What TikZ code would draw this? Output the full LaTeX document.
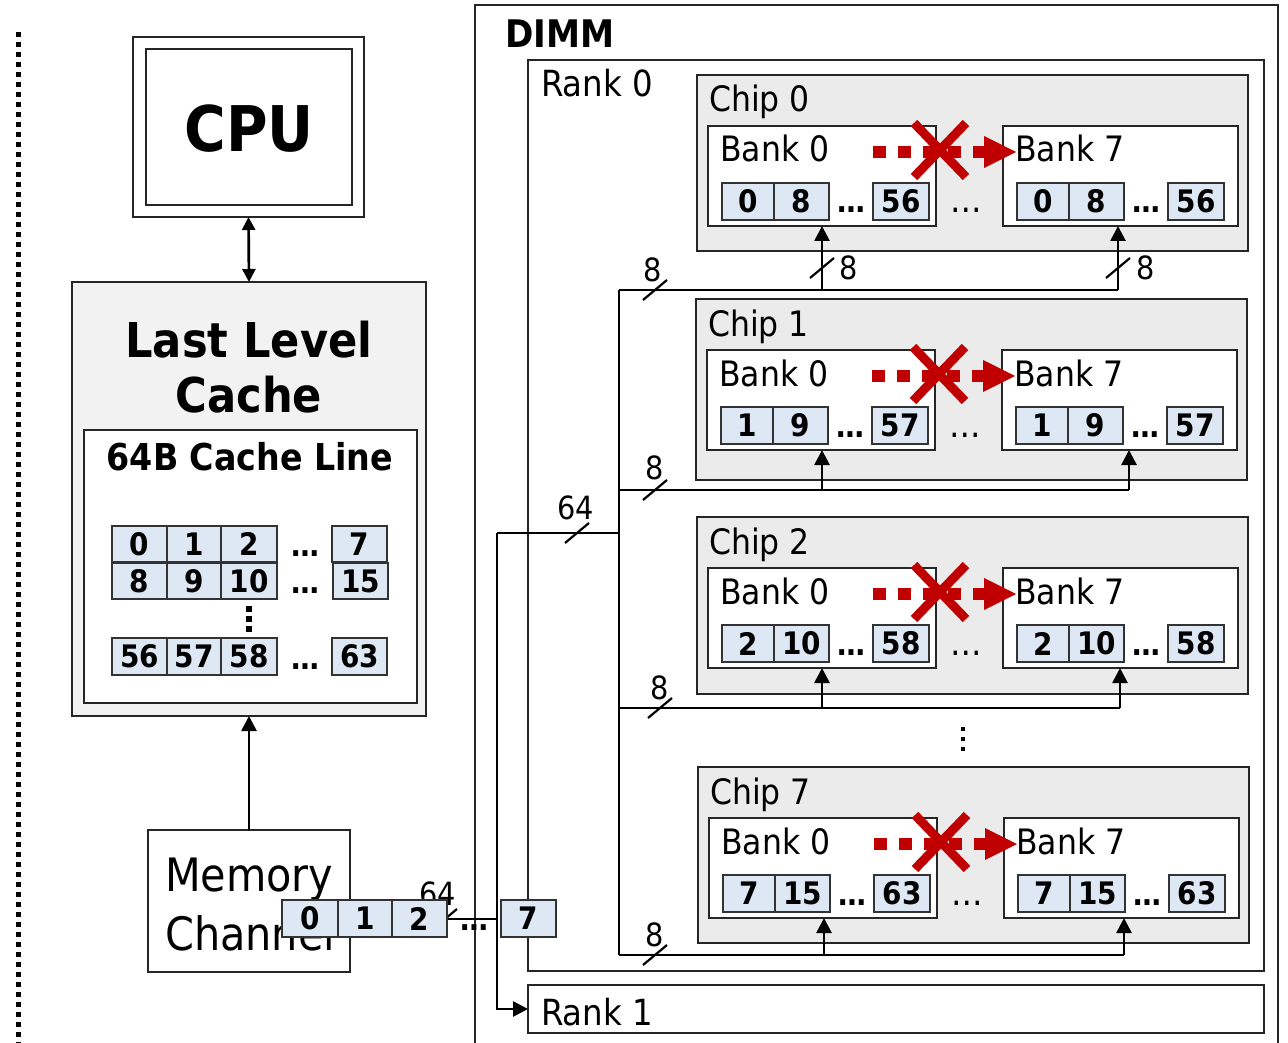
\documentclass[tikz,border=0pt]{standalone}
\usepackage{fontspec}
\setmainfont{DejaVu Sans Condensed}
\usetikzlibrary{arrows.meta}
\definecolor{llcgray}{HTML}{F2F2F2}
\definecolor{chipgray}{HTML}{EBEBEB}
\definecolor{cellblue}{HTML}{DDE8F4}
\definecolor{xred}{HTML}{C00000}
\newcommand\banksize{\fontsize{35}{35}\selectfont}
\newcommand\cellsize{\bfseries\fontsize{31}{31}\selectfont}
\newcommand\mybox[6]{\pgfmathsetmacro\mbw{(#4)-(#2)}\pgfmathsetmacro\mbh{(#5)-(#3)}%
  \node[#6,inner sep=0pt,outer sep=0pt,minimum width=\mbw pt,minimum height=\mbh pt,anchor=north west] (#1) at (#2,#3) {};}
\newcommand\mycell[6]{\pgfmathsetmacro\mbw{(#4)-(#2)}\pgfmathsetmacro\mbh{(#5)-(#3)}%
  \node[cellbox,inner sep=0pt,outer sep=0pt,minimum width=\mbw pt,minimum height=\mbh pt,anchor=north west] (#1) at (#2,#3) {#6};}
\newcommand\myslash[2]{\draw[tick] (#1-12,#2+10) -- (#1+12,#2-10);}
\newcommand\mybank[8]{%
  \mybox{#1}{#2}{#3}{#2+#4}{#3+100}{frame,fill=white}
  \node[lbl,font=\banksize] (#1t) at (#2+12,#3+36) {#5};
  \mycell{#1x}{#2+14}{#3+57}{#2+66}{#3+94}{#6}
  \mycell{#1y}{#2+66}{#3+57}{#2+121}{#3+94}{#7}
  \node[inner sep=0pt,anchor=base,font=\cellsize] (#1d) at (#2+143,#3+87) {…};
  \mycell{#1z}{#2+165}{#3+57}{#2+221}{#3+94}{#8}
}
\newcommand\mychip[8]{%
  \mybox{#1}{#2}{#3}{#2+551}{#3+#4}{frame,fill=chipgray}
  \node[lbl,font=\banksize] (#1t) at (#2+12,#3+37) {#5};
  \mybank{#1b0}{#2+11}{#3+51}{228}{Bank 0}{#6}{#7}{#8}
  \mybank{#1b7}{#2+306}{#3+51}{235}{Bank 7}{#6}{#7}{#8}
  \node[inner sep=0pt,anchor=base,font=\banksize] (#1gap) at (#2+269,#3+138) {…};
  \draw[xred,line width=12pt,dash pattern=on 13pt off 12pt] (#2+11+165,#3+51+26) -- (#2+11+278,#3+51+26);
  \fill[xred] (#2+11+276,#3+51+10) -- (#2+11+308,#3+51+26) -- (#2+11+276,#3+51+42) -- cycle;
  \draw[xred,line width=9pt] (#2+11+206,#3+51-3) -- (#2+11+258,#3+51+51);
  \draw[xred,line width=9pt] (#2+11+258,#3+51-3) -- (#2+11+206,#3+51+51);
}
\begin{document}
\begin{tikzpicture}[x=1pt,y=-1pt,
  frame/.style={draw=black!85,line width=2.5pt},
  cellbox/.style={draw=black!80,line width=2.2pt,fill=cellblue,font=\cellsize},
  lbl/.style={inner sep=0pt,anchor=base west},
  bus/.style={line width=2.7pt,black},
  arr/.style={bus,-{Triangle[length=15pt,width=15pt]}},
  darr/.style={bus,{Triangle[length=13pt,width=13pt]}-{Triangle[length=13pt,width=13pt]}},
  tick/.style={line width=2.2pt},
  num/.style={inner sep=0pt,font=\fontsize{32}{32}\selectfont}]
\useasboundingbox (0,0) rectangle (1288,1043);
\fill[white] (0,0) rectangle (1288,1043);
% left dotted divider
\draw[line width=5pt,dash pattern=on 5pt off 5pt] (18,32) -- (18,1043);
% CPU
\mybox{cpu}{133}{37}{364}{217}{frame}
\mybox{cpuin}{146}{49}{352}{205}{frame}
\node[inner sep=0pt,anchor=base,font=\bfseries\fontsize{63}{63}\selectfont] (cput) at (249,152) {CPU};
% LLC
\mybox{llc}{72}{282}{426}{716}{frame,fill=llcgray}
\node[inner sep=0pt,anchor=base,font=\bfseries\fontsize{48}{48}\selectfont] (llct1) at (249,357) {Last Level};
\node[inner sep=0pt,anchor=base,font=\bfseries\fontsize{48}{48}\selectfont] (llct2) at (249,412) {Cache};
\mybox{cl}{84}{430}{417}{703}{frame,fill=white}
\node[inner sep=0pt,anchor=base,font=\bfseries\fontsize{37}{37}\selectfont] (clt) at (250,470) {64B Cache Line};
\mycell{k0}{112}{526}{167}{562}{0}
\mycell{k1}{167}{526}{221}{562}{1}
\mycell{k2}{221}{526}{277}{562}{2}
\node[inner sep=0pt,anchor=base,font=\cellsize] (kd1) at (305,556) {…};
\mycell{k7}{332}{526}{387}{562}{7}
\mycell{k8}{112}{563}{167}{599}{8}
\mycell{k9}{167}{563}{221}{599}{9}
\mycell{k10}{221}{563}{277}{599}{10}
\node[inner sep=0pt,anchor=base,font=\cellsize] (kd2) at (305,593) {…};
\mycell{k15}{333}{563}{388}{599}{15}
\fill (246,606) rectangle (252,612);
\fill (246,616) rectangle (252,622);
\fill (246,626) rectangle (252,632);
\mycell{k56}{112}{638}{167}{675}{56}
\mycell{k57}{167}{638}{221}{675}{57}
\mycell{k58}{221}{638}{277}{675}{58}
\node[inner sep=0pt,anchor=base,font=\cellsize] (kd3) at (305,669) {…};
\mycell{k63}{332}{638}{387}{675}{63}
\draw[darr] (cpu.south) -- (llc.north);
% DIMM
\draw[frame] (475,1043) -- (475,5) -- (1278,5) -- (1278,1043);
\node[lbl,font=\bfseries\fontsize{38}{38}\selectfont] (dimmt) at (505,48) {DIMM};
\mybox{rank0}{528}{60}{1264}{971}{frame}
\node[lbl,font=\fontsize{36}{36}\selectfont] (rank0t) at (541,97) {Rank 0};
\mybox{rank1}{528}{985}{1264}{1033}{frame}
\node[lbl,font=\fontsize{36}{36}\selectfont] (rank1t) at (541,1025) {Rank 1};
% chips
\mychip{c0}{697}{75}{176}{Chip 0}{0}{8}{56}
\mychip{c1}{696}{299}{181}{Chip 1}{1}{9}{57}
\mychip{c2}{697}{517}{177}{Chip 2}{2}{10}{58}
\mychip{c7}{698}{767}{176}{Chip 7}{7}{15}{63}
\fill (961,727) rectangle (965,731);
\fill (961,737) rectangle (965,741);
\fill (961,747) rectangle (965,751);
% buses
\coordinate (j0) at (619,290);
\coordinate (j1) at (619,490);
\coordinate (j2) at (619,708);
\coordinate (j7) at (619,955);
\coordinate (j64) at (619,533);
\coordinate (v64) at (497,533);
\draw[bus] (j0) -- (j7);
\coordinate (a0l) at (822,290); \coordinate (a0r) at (1118,290);
\coordinate (a1l) at (822,490); \coordinate (a1r) at (1129,490);
\coordinate (a2l) at (822,708); \coordinate (a2r) at (1120,708);
\coordinate (a7l) at (824,955); \coordinate (a7r) at (1124,955);
\draw[bus] (j0) -- (a0r);
\draw[arr] (a0l) -- (a0l |- c0b0.south);
\draw[arr] (a0r) -- (a0r |- c0b7.south);
\draw[bus] (j1) -- (a1r);
\draw[arr] (a1l) -- (a1l |- c1b0.south);
\draw[arr] (a1r) -- (a1r |- c1b7.south);
\draw[bus] (j2) -- (a2r);
\draw[arr] (a2l) -- (a2l |- c2b0.south);
\draw[arr] (a2r) -- (a2r |- c2b7.south);
\draw[bus] (j7) -- (a7r);
\draw[arr] (a7l) -- (a7l |- c7b0.south);
\draw[arr] (a7r) -- (a7r |- c7b7.south);
\myslash{655}{290} \node[num] (w0) at (653,270) {8};
\myslash{822}{268} \node[num] (w0a) at (849,268) {8};
\myslash{1118}{268} \node[num] (w0b) at (1146,268) {8};
\myslash{655}{490} \node[num] (w1) at (655,468) {8};
\myslash{660}{708} \node[num] (w2) at (660,688) {8};
\myslash{655}{955} \node[num] (w7) at (655,935) {8};
\draw[bus] (v64) -- (j64);
\myslash{577}{533} \node[num] (w64) at (576,508) {64};
\draw[arr] (v64) |- (rank1.west);
% memory channel
\mybox{mc}{148}{830}{350}{972}{frame,fill=white}
\node[lbl,font=\fontsize{46}{46}\selectfont] (mct1) at (165,891) {Memory};
\node[lbl,font=\fontsize{46}{46}\selectfont] (mct2) at (165,950) {Channel};
\draw[arr] (mc.north) -- (llc.south);
\coordinate (m2e) at (447,919);
\draw[bus] (m2e) -- (m2e -| v64);
\node[num] (wm) at (438,894) {64};
\myslash{445}{919}
\mycell{m0}{282}{900}{338}{937}{0}
\mycell{m1}{338}{900}{392}{937}{1}
\mycell{m2}{392}{900}{447}{937}{2}
\node[inner sep=0pt,anchor=base,font=\cellsize] (md) at (474,930) {…};
\mycell{m7}{501}{900}{556}{937}{7}
\end{tikzpicture}
\end{document}
